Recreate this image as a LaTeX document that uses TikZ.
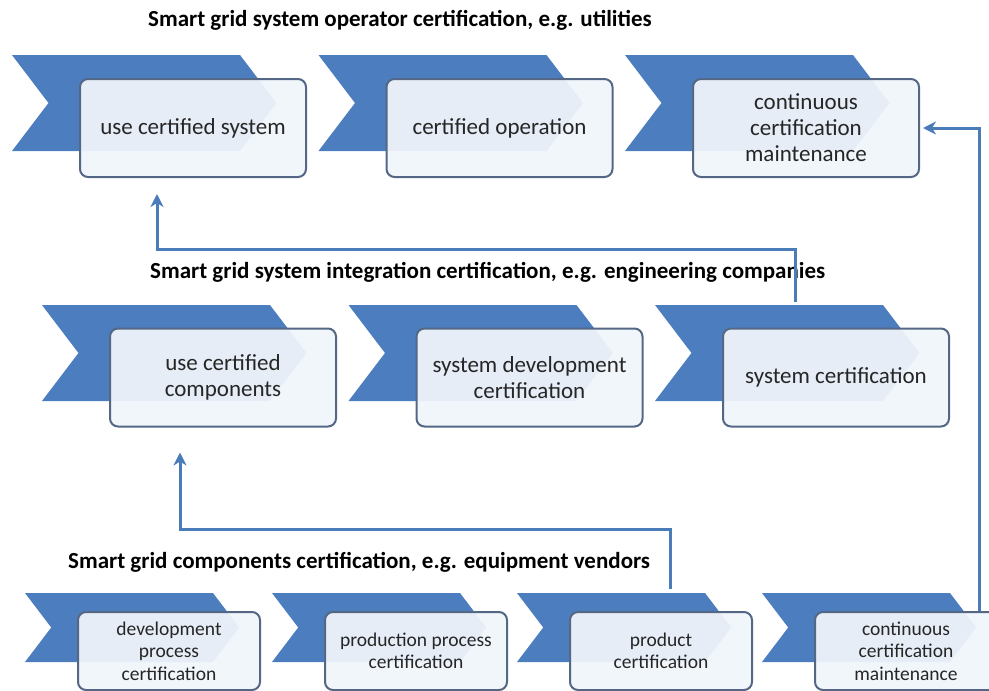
\documentclass[tikz,border=0pt]{standalone}
\usepackage{fontspec}
\setmainfont{Carlito}
\usepackage{tikz}
\usetikzlibrary{arrows.meta}
\definecolor{chevblue}{RGB}{76,125,190}
\definecolor{linkblue}{RGB}{74,124,186}
\definecolor{boxline}{RGB}{84,104,134}
\definecolor{boxfill}{RGB}{240,245,251}
\definecolor{ink}{RGB}{38,38,38}
\tikzstyle{chev}=[fill=chevblue]
\tikzstyle{stage}=[rectangle, rounded corners=8pt, draw=boxline, line width=2pt, fill=boxfill, fill opacity=0.94, text opacity=1, text=ink, align=center, inner sep=0pt, minimum width=226pt, minimum height=98pt, font=\fontsize{23}{26}\selectfont]
\tikzstyle{substage}=[stage, minimum width=182pt, minimum height=78pt, font=\fontsize{19.5}{22.5}\selectfont]
\tikzstyle{heading}=[inner sep=0pt, anchor=west, text=black, font=\fontsize{23}{27}\selectfont\bfseries]
\tikzstyle{link}=[draw=linkblue, line width=3pt, -{Stealth[length=13pt,width=13pt,inset=4pt]}]
\newcommand{\chevron}[4]{\fill[chev] (#1,#2) -- ++(#3,0) -- ++({0.38*#4},{#4/2}) -- ++({-0.38*#4},{#4/2}) -- ++(-#3,0) -- ++({0.38*#4},{-#4/2}) -- cycle;}

\begin{document}
\begin{tikzpicture}[x=1pt,y=-1pt]
				\useasboundingbox (0,0) rectangle (989,691);
				
				%The headings
				\draw (148,20) node[heading] (h1) {Smart grid system operator certification, e.g. utilities};
				\draw (150,272) node[heading] (h2) {Smart grid system integration certification, e.g. engineering companies};
				\draw (68,562) node[heading] (h3) {Smart grid components certification, e.g. equipment vendors};
				
				%The operator row
				\chevron{12}{55}{228}{96}
				\chevron{318.5}{55}{228}{96}
				\chevron{625}{55}{228}{96}
				\draw (193,128) node[stage] (t1) {use certified system};
				\draw (499.5,128) node[stage] (t2) {certified operation};
				\draw (806,128) node[stage] (t3) {continuous\\certification\\maintenance};
				
				%The integration row
				\chevron{42}{305}{228}{96}
				\chevron{348.5}{305}{228}{96}
				\chevron{655}{305}{228}{96}
				\draw (223,377.5) node[stage] (m1) {use certified\\components};
				\draw (529.5,377.5) node[stage] (m2) {system development\\certification};
				\draw (836,377.5) node[stage] (m3) {system certification};
				
				%The components row
				\chevron{25}{593}{188}{69}
				\chevron{272}{593}{188}{69}
				\chevron{517}{593}{188}{69}
				\chevron{762}{593}{188}{69}
				\draw (169,651) node[substage] (b1) {development\\process\\certification};
				\draw (416,651) node[substage] (b2) {production process\\certification};
				\draw (661,651) node[substage] (b3) {product\\certification};
				\draw (906,651) node[substage] (b4) {continuous\\certification\\maintenance};
				
				%The links
				\draw[link] ([xshift=-41pt,yshift=26pt]m3.north) -- ++(0,-52) -| ([xshift=-36pt,yshift=-16pt]t1.south);
				\draw[link] ([xshift=9pt,yshift=22pt]b3.north) -- ++(0,-60) -| ([xshift=-43pt,yshift=-25pt]m1.south);
				\draw[link] ([xshift=73pt]b4.north) |- ([xshift=3pt]t3.east);
			\end{tikzpicture}
\end{document}
